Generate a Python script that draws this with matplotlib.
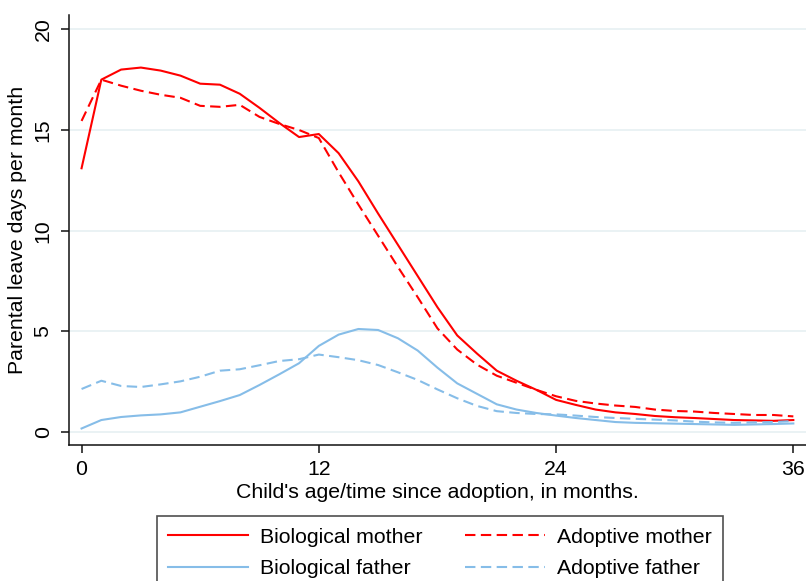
import matplotlib
matplotlib.use("Agg")
import matplotlib.pyplot as plt
from matplotlib.lines import Line2D

plt.rcParams['font.family'] = ['Liberation Sans', 'DejaVu Sans']

months = list(range(0, 37))
bio_mother = [13.1, 17.5, 18.0, 18.1, 17.95, 17.7, 17.3, 17.25, 16.8, 16.1, 15.35, 14.65,
              14.8, 13.85, 12.45, 10.85, 9.3, 7.75, 6.2, 4.8, 3.9, 3.05, 2.55, 2.1,
              1.6, 1.35, 1.12, 0.98, 0.9, 0.8, 0.74, 0.7, 0.65, 0.6, 0.58, 0.56, 0.6]
ado_mother = [15.45, 17.5, 17.2, 16.95, 16.75, 16.6, 16.2, 16.15, 16.25, 15.65, 15.3, 15.0,
              14.6, 12.9, 11.3, 9.75, 8.2, 6.7, 5.15, 4.1, 3.35, 2.8, 2.45, 2.1,
              1.78, 1.55, 1.42, 1.32, 1.25, 1.12, 1.05, 1.02, 0.95, 0.9, 0.85, 0.85, 0.78]
bio_father = [0.18, 0.6, 0.75, 0.83, 0.88, 0.98, 1.26, 1.54, 1.84, 2.34, 2.87, 3.42,
              4.28, 4.84, 5.12, 5.07, 4.66, 4.05, 3.2, 2.42, 1.9, 1.38, 1.12, 0.95,
              0.82, 0.7, 0.6, 0.5, 0.46, 0.44, 0.42, 0.4, 0.38, 0.36, 0.38, 0.4, 0.43]
ado_father = [2.14, 2.55, 2.29, 2.24, 2.37, 2.52, 2.75, 3.05, 3.12, 3.32, 3.53, 3.62,
              3.85, 3.72, 3.57, 3.33, 2.97, 2.59, 2.12, 1.68, 1.3, 1.04, 0.95, 0.9,
              0.88, 0.82, 0.75, 0.7, 0.66, 0.62, 0.58, 0.52, 0.48, 0.46, 0.48, 0.5, 0.55]

xticks = [0, 12, 24, 36]
yticks = [0, 5, 10, 15, 20]
labels = ["Biological mother", "Adoptive mother", "Biological father", "Adoptive father"]

RED = '#FF0000'
BLUE = '#86BDE8'
GRID = '#E8F1F3'
DASH = (5, 2.6)
FS = 15.3

W, H = 806, 581
fig = plt.figure(figsize=(W / 100, H / 100), dpi=100)
ax = fig.add_axes([69.3 / W, 1 - 445 / H, (W - 69.3) / W, (445 - 15) / H])

ax.plot(months, bio_mother, color=RED, lw=1.5, label=labels[0])
ax.plot(months, ado_mother, color=RED, lw=1.5, dashes=DASH, label=labels[1])
ax.plot(months, bio_father, color=BLUE, lw=1.5, label=labels[2])
ax.plot(months, ado_father, color=BLUE, lw=1.5, dashes=DASH, label=labels[3])

ax.set_xlim(-0.62, 36.64)
ax.set_ylim(-0.64, 20.71)
ax.set_xticks(xticks)
ax.set_yticks(yticks)
ax.set_xticklabels([str(t) for t in xticks])
ax.set_yticklabels([str(t) for t in yticks], rotation=90, va='center')
ax.yaxis.grid(True, color=GRID, lw=1.3)
ax.set_axisbelow(True)

for s in ['top', 'right']:
    ax.spines[s].set_visible(False)
for s in ['left', 'bottom']:
    ax.spines[s].set_linewidth(1.1)
    ax.spines[s].set_color('#111111')

ax.tick_params(axis='both', direction='out', length=6, width=1.1, labelsize=FS, color='#111111')
ax.tick_params(axis='y', pad=6)
ax.tick_params(axis='x', pad=4.5)

ax.set_xlabel("Child's age/time since adoption, in months.", fontsize=FS, labelpad=3)
ax.set_ylabel("Parental leave days per month", fontsize=FS, labelpad=5)

h_bm = Line2D([], [], color=RED, lw=1.5)
h_am = Line2D([], [], color=RED, lw=1.5, dashes=DASH)
h_bf = Line2D([], [], color=BLUE, lw=1.5)
h_af = Line2D([], [], color=BLUE, lw=1.5, dashes=DASH)
# column-major order so rows read: mothers, then fathers
handles = [h_bm, h_bf, h_am, h_af]
leg_labels = [labels[0], labels[2], labels[1], labels[3]]
leg = fig.legend(handles, leg_labels, ncol=2, loc='upper left',
                 bbox_to_anchor=(156.7 / W, 1 - 516 / H), fontsize=FS,
                 frameon=True, fancybox=False, edgecolor='#222222',
                 handlelength=3.76, handletextpad=0.56, columnspacing=2.0,
                 labelspacing=0.6, borderpad=0.55, borderaxespad=0)
leg.get_frame().set_linewidth(1.2)

fig.savefig('out.png', dpi=100)
